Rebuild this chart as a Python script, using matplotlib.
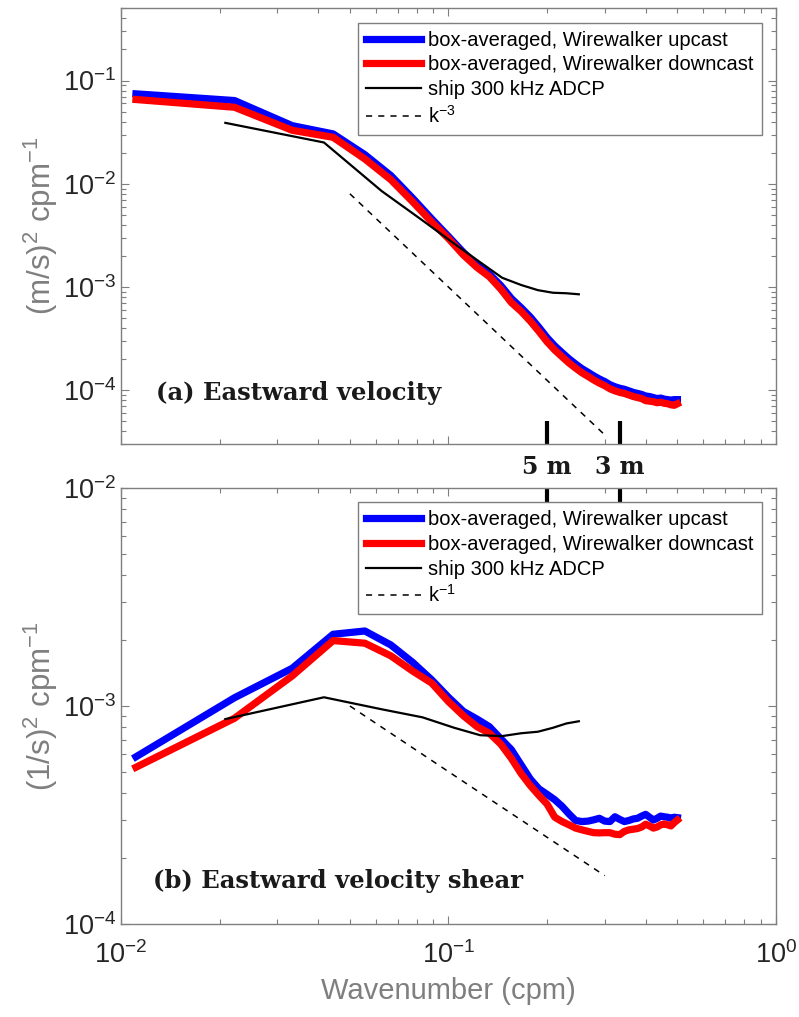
import numpy as np
import matplotlib.pyplot as plt
import matplotlib.transforms as mtransforms
from matplotlib.ticker import LogLocator, NullFormatter

plt.rcParams['font.family'] = ['Liberation Sans', 'DejaVu Sans']
plt.rcParams['mathtext.default'] = 'regular'
plt.rcParams['axes.unicode_minus'] = False

# wavenumbers (cpm)
k_ww = np.arange(1, 46) / 90.0      # Wirewalker box-averaged spectra
k_adcp = np.arange(1, 13) / 48.0    # ship ADCP

# (a) eastward velocity spectra, log10 of (m/s)^2 cpm^-1
u_up_log = [-1.129, -1.194, -1.437, -1.517, -1.718, -1.92, -2.14, -2.34, -2.51, -2.665,
            -2.785, -2.875, -2.985, -3.11, -3.20, -3.29, -3.39, -3.49, -3.57, -3.635,
            -3.695, -3.745, -3.79, -3.825, -3.86, -3.89, -3.915, -3.945, -3.965, -3.98,
            -3.99, -4.005, -4.02, -4.03, -4.04, -4.055, -4.06, -4.07, -4.08, -4.075,
            -4.085, -4.09, -4.095, -4.09, -4.09]
u_down_log = [-1.184, -1.259, -1.482, -1.55, -1.76, -1.96, -2.175, -2.37, -2.53, -2.69,
              -2.81, -2.90, -3.02, -3.15, -3.235, -3.33, -3.43, -3.53, -3.61, -3.675,
              -3.735, -3.785, -3.83, -3.865, -3.90, -3.93, -3.955, -3.985, -4.005, -4.02,
              -4.03, -4.045, -4.06, -4.07, -4.08, -4.10, -4.105, -4.11, -4.12, -4.115,
              -4.125, -4.13, -4.14, -4.145, -4.13]
u_adcp_log = [-1.41, -1.60, -2.07, -2.355, -2.58, -2.76, -2.91, -2.98, -3.03, -3.055,
              -3.06, -3.07]

# (b) eastward velocity shear spectra, log10 of (1/s)^2 cpm^-1
s_up_log = [-3.233, -2.962, -2.827, -2.671, -2.656, -2.72, -2.80, -2.88, -2.96, -3.025,
            -3.06, -3.095, -3.15, -3.20, -3.27, -3.335, -3.38, -3.405, -3.43, -3.46,
            -3.495, -3.525, -3.53, -3.528, -3.522, -3.515, -3.528, -3.53, -3.508, -3.52,
            -3.53, -3.525, -3.518, -3.515, -3.505, -3.497, -3.51, -3.523, -3.515, -3.505,
            -3.508, -3.51, -3.515, -3.51, -3.512]
s_down_log = [-3.281, -3.056, -2.862, -2.70, -2.712, -2.77, -2.84, -2.895, -2.98, -3.045,
              -3.095, -3.125, -3.175, -3.24, -3.31, -3.365, -3.41, -3.45, -3.51, -3.53,
              -3.545, -3.56, -3.568, -3.575, -3.581, -3.582, -3.581, -3.581, -3.588, -3.59,
              -3.575, -3.568, -3.565, -3.562, -3.555, -3.542, -3.55, -3.56, -3.555, -3.545,
              -3.541, -3.545, -3.55, -3.535, -3.523]
s_adcp_log = [-3.06, -2.96, -3.015, -3.052, -3.10, -3.134, -3.138, -3.125, -3.118, -3.10,
              -3.08, -3.07]

# reference slopes
k_ref = np.array([0.05, 0.3])
ref_a = 1e-6 * k_ref ** -3
ref_b = 5e-5 * k_ref ** -1

# vertical wavelength markers
mark_k = [1 / 5, 1 / 3]
mark_labels = ['5 m', '3 m']

gray = '#7f7f7f'
dark = '#262626'
serif = dict(family='DejaVu Serif', fontweight='bold', color='#1a1a1a')

fig = plt.figure(figsize=(7.99, 10.17), dpi=100)
ax1 = fig.add_axes([0.1514, 0.5631, 0.8198, 0.4287])
ax2 = fig.add_axes([0.1514, 0.0914, 0.8198, 0.4288])


def style_axes(ax, ylim):
    ax.set_xscale('log')
    ax.set_yscale('log')
    ax.set_xlim(1e-2, 1)
    ax.set_ylim(*ylim)
    ax.yaxis.set_major_locator(LogLocator(base=10, numticks=10))
    ax.yaxis.set_minor_locator(LogLocator(base=10, subs=np.arange(2, 10), numticks=20))
    ax.yaxis.set_minor_formatter(NullFormatter())
    ax.xaxis.set_minor_locator(LogLocator(base=10, subs=np.arange(2, 10), numticks=20))
    ax.xaxis.set_minor_formatter(NullFormatter())
    ax.tick_params(which='both', direction='in', top=True, right=True, colors=gray,
                   labelcolor=dark, labelsize=19.5, width=0.8)
    ax.tick_params(which='major', length=6)
    ax.tick_params(which='minor', length=3.5)
    for sp in ax.spines.values():
        sp.set_color(gray)
        sp.set_linewidth(1)


# panel (a)
style_axes(ax1, (3e-5, 0.5))
ax1.plot(k_ww, 10 ** np.array(u_up_log), color='blue', lw=5.2,
         label='box-averaged, Wirewalker upcast')
ax1.plot(k_ww, 10 ** np.array(u_down_log), color='red', lw=5.2,
         label='box-averaged, Wirewalker downcast')
ax1.plot(k_adcp, 10 ** np.array(u_adcp_log), color='k', lw=1.6, label='ship 300 kHz ADCP')
ax1.plot(k_ref, ref_a, color='k', lw=1.1, ls=(0, (4, 4)), label='k$^{-3}$')
for km in mark_k:
    ax1.plot([km, km], [3e-5, 5e-5], color='k', lw=3, solid_capstyle='butt')
ax1.tick_params(labelbottom=False)
ax1.set_ylabel('(m/s)$^2$ cpm$^{-1}$', color=gray, fontsize=22.5, labelpad=2)
ax1.text(0.053, 0.1016, '(a) Eastward velocity', transform=ax1.transAxes,
         fontsize=17.5, **serif)

# panel (b)
style_axes(ax2, (1e-4, 1e-2))
ax2.plot(k_ww, 10 ** np.array(s_up_log), color='blue', lw=5.2,
         label='box-averaged, Wirewalker upcast')
ax2.plot(k_ww, 10 ** np.array(s_down_log), color='red', lw=5.2,
         label='box-averaged, Wirewalker downcast')
ax2.plot(k_adcp, 10 ** np.array(s_adcp_log), color='k', lw=1.6, label='ship 300 kHz ADCP')
ax2.plot(k_ref, ref_b, color='k', lw=1.1, ls=(0, (4, 4)), label='k$^{-1}$')
for km in mark_k:
    ax2.plot([km, km], [8.6e-3, 1e-2], color='k', lw=3, solid_capstyle='butt')
ax2.tick_params(axis='x', pad=12)
ax2.set_ylabel('(1/s)$^2$ cpm$^{-1}$', color=gray, fontsize=22.5, labelpad=2)
ax2.set_xlabel('Wavenumber (cpm)', color=gray, fontsize=21, labelpad=6)
ax2.text(0.049, 0.0826, '(b) Eastward velocity shear', transform=ax2.transAxes,
         fontsize=17.5, **serif)

for ax in (ax1, ax2):
    leg = ax.legend(loc='upper right', bbox_to_anchor=(0.9786, 0.967), fontsize=14.5,
                    frameon=True, fancybox=False, framealpha=1, edgecolor=gray,
                    handlelength=2.75, handletextpad=0.35, borderpad=0.4,
                    labelspacing=0.28, borderaxespad=0)
    leg.get_frame().set_linewidth(1)

# wavelength labels between the panels
trans = mtransforms.blended_transform_factory(ax1.transData, fig.transFigure)
for km, lab in zip(mark_k, mark_labels):
    fig.text(km, 0.5408, lab, transform=trans, ha='center', va='center',
             fontsize=17, **serif)

fig.savefig('out.png', dpi=100)
